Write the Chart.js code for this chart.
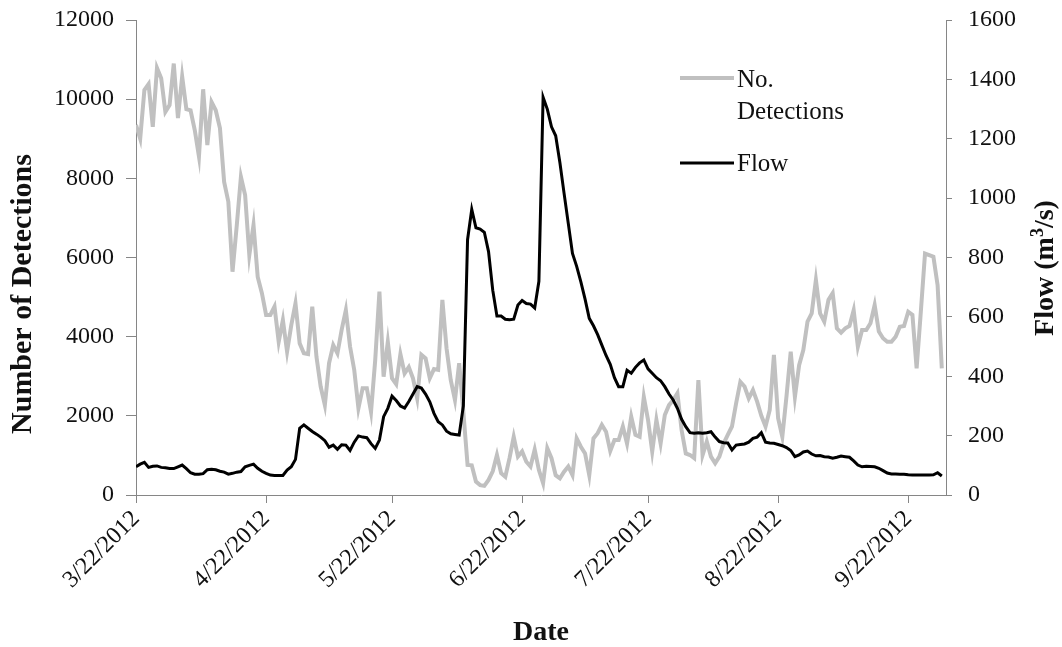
<!DOCTYPE html>
<html>
<head>
<meta charset="utf-8">
<script src="https://cdn.jsdelivr.net/npm/chart.js@4.4.1/dist/chart.umd.min.js"></script>
<style>
  html, body { margin: 0; padding: 0; background: #fff; }
  #wrap { width: 1062px; height: 647px; }
</style>
</head>
<body>
<div id="wrap"><canvas id="chartCanvas" width="1062" height="647"></canvas></div>
<script>
// Fechas del eje (primer día de datos y final del eje)
const startDate = '3/22/2012';
const axisEndDate = '10/1/2012';

// Etiquetas de las marcas del eje X
const tickLabels = ['3/22/2012', '4/22/2012', '5/22/2012', '6/22/2012', '7/22/2012', '8/22/2012', '9/22/2012'];

// Marcas de los ejes Y
const leftTicks = [0, 2000, 4000, 6000, 8000, 10000, 12000];
const rightTicks = [0, 200, 400, 600, 800, 1000, 1200, 1400, 1600];

// Número de detecciones por día (desde 3/22/2012)
const detections = [
  9350, 9000, 10230, 10380, 9300, 10790, 10530, 9680, 9850, 10900,
  9520, 10570, 9750, 9720, 9220, 8550, 10250, 8840, 9930, 9720,
  9270, 7910, 7410, 5640, 6800, 8040, 7580, 6060, 6820, 5510,
  5100, 4550, 4550, 4760, 3870, 4420, 3620, 4290, 4840, 3830,
  3580, 3560, 4760, 3490, 2740, 2270, 3330, 3790, 3580, 4170,
  4670, 3750, 3160, 2190, 2700, 2700, 2100, 3410, 5140, 2990,
  3870, 2950, 2800, 3560, 3070, 3230, 2950, 2440, 3540, 3450,
  2950, 3180, 3160, 4930, 3700, 2900, 2400, 3330, 2100, 760,
  750, 340, 250, 230, 380, 600, 1010, 550, 460, 930,
  1470, 970, 1100, 840, 720, 1150, 630, 300, 1180, 930,
  500, 420, 590, 720, 500, 1430, 1220, 1050, 500, 1430,
  1560, 1770, 1600, 1110, 1390, 1390, 1730, 1300, 1980, 1520,
  1470, 2480, 1900, 1100, 1900, 1300, 2020, 2270, 2400, 2570,
  1640, 1050, 1010, 930, 2900, 1010, 1350, 970, 800, 970,
  1300, 1520, 1730, 2320, 2860, 2740, 2440, 2650, 2360, 2000,
  1730, 2150, 3540, 1940, 1470, 2500, 3620, 2480, 3280, 3660,
  4380, 4590, 5430, 4590, 4380, 4930, 5100, 4210, 4100, 4210,
  4270, 4670, 3750, 4170, 4170, 4340, 4800, 4130, 3960, 3870,
  3870, 4000, 4250, 4270, 4630, 4550, 3200, 4630, 6100, 6060,
  6020, 5300, 3200
];

// Caudal diario (m3/s)
const flow = [
  95, 104, 110, 93, 97, 98, 93, 92, 89, 89,
  95, 101, 89, 75, 70, 70, 72, 85, 87, 85,
  80, 77, 70, 73, 77, 79, 95, 100, 104, 90,
  80, 73, 67, 66, 66, 66, 84, 95, 120, 225,
  236, 225, 214, 205, 195, 183, 161, 168, 154, 169,
  168, 150, 178, 199, 195, 193, 173, 157, 185, 264,
  292, 333, 318, 300, 293, 315, 340, 365, 360, 340,
  314, 275, 247, 236, 215, 206, 204, 202, 300, 860,
  962, 900, 896, 885, 820, 690, 603, 603, 592, 590,
  592, 640, 655, 645, 643, 630, 720, 1340, 1300, 1240,
  1210, 1120, 1016, 915, 814, 770, 718, 660, 595, 570,
  540, 505, 470, 440, 395, 365, 365, 420, 410, 430,
  445, 455, 425, 410, 395, 385, 365, 340, 320, 292,
  255, 230, 210, 208, 210, 208, 210, 213, 195, 180,
  176, 175, 152, 168, 170, 172, 178, 191, 195, 210,
  178, 175, 174, 170, 166, 160, 150, 129, 135, 145,
  148, 138, 132, 133, 129, 128, 124, 127, 131, 129,
  127, 115, 101, 95, 97, 96, 95, 90, 82, 74,
  71, 71, 70, 70, 68, 67, 67, 67, 67, 67,
  68, 75, 64
];

// Convierte 'm/d/yyyy' en número de días desde la fecha inicial
function dayOf(label) {
  const [m, d, y] = label.split('/').map(Number);
  const [m0, d0, y0] = startDate.split('/').map(Number);
  return Math.round((Date.UTC(y, m - 1, d) - Date.UTC(y0, m0 - 1, d0)) / 86400000);
}

const tickDays = tickLabels.map(dayOf);
const axisColor = '#868686';
const textColor = '#111';
const serif = "'Liberation Serif', 'Times New Roman', serif";

// Ancho fijo de los ejes Y, sin relleno extra arriba/abajo
function fixYAxis(width) {
  return s => {
    s.width = width;
    s.paddingTop = 0;
    s.paddingBottom = 0;
  };
}

// Títulos de ejes y leyenda dibujados a mano
const decorations = {
  id: 'decorations',
  afterDraw(chart) {
    const ctx = chart.ctx;
    ctx.save();
    ctx.fillStyle = textColor;
    ctx.textBaseline = 'middle';

    // Título eje izquierdo
    ctx.save();
    ctx.translate(23, 294);
    ctx.rotate(-Math.PI / 2);
    ctx.textAlign = 'center';
    ctx.font = 'bold 30px ' + serif;
    ctx.fillText('Number of Detections', 0, 0);
    ctx.restore();

    // Título eje derecho con superíndice
    ctx.save();
    ctx.translate(1046, 268);
    ctx.rotate(-Math.PI / 2);
    const big = 'bold 28px ' + serif;
    const small = 'bold 18px ' + serif;
    ctx.font = big;
    const w1 = ctx.measureText('Flow (m').width;
    const w3 = ctx.measureText('/s)').width;
    ctx.font = small;
    const w2 = ctx.measureText('3').width;
    let x = -(w1 + w2 + w3) / 2;
    ctx.textAlign = 'left';
    ctx.font = big;
    ctx.fillText('Flow (m', x, 0);
    x += w1;
    ctx.font = small;
    ctx.fillText('3', x, -8);
    x += w2;
    ctx.font = big;
    ctx.fillText('/s)', x, 0);
    ctx.restore();

    // Título eje X
    ctx.textAlign = 'center';
    ctx.font = 'bold 28px ' + serif;
    ctx.fillText('Date', 541, 633);

    // Leyenda
    ctx.lineWidth = 4;
    ctx.strokeStyle = '#c0c0c0';
    ctx.beginPath(); ctx.moveTo(680, 78); ctx.lineTo(734, 78); ctx.stroke();
    ctx.lineWidth = 3;
    ctx.strokeStyle = '#000';
    ctx.beginPath(); ctx.moveTo(680, 163); ctx.lineTo(734, 163); ctx.stroke();
    ctx.textAlign = 'left';
    ctx.font = '25px ' + serif;
    ctx.fillText('No.', 737, 80);
    ctx.fillText('Detections', 737, 112);
    ctx.fillText('Flow', 737, 164);
    ctx.restore();
  }
};

const ctx = document.getElementById('chartCanvas').getContext('2d');
new Chart(ctx, {
  type: 'line',
  data: {
    datasets: [
      {
        label: 'Flow',
        data: flow.map((v, i) => ({ x: i, y: v })),
        yAxisID: 'y1',
        borderColor: '#000',
        borderWidth: 3,
        pointRadius: 0,
        tension: 0,
        order: 1
      },
      {
        label: 'No. Detections',
        data: detections.map((v, i) => ({ x: i, y: v })),
        yAxisID: 'y',
        borderColor: '#c0c0c0',
        borderWidth: 4,
        pointRadius: 0,
        tension: 0,
        order: 2
      }
    ]
  },
  options: {
    responsive: false,
    animation: false,
    layout: { padding: { top: 20, left: 0, right: 0, bottom: 0 } },
    plugins: { legend: { display: false }, tooltip: { enabled: false } },
    scales: {
      x: {
        type: 'linear',
        min: 0,
        max: dayOf(axisEndDate),
        afterBuildTicks: s => { s.ticks = tickDays.map(v => ({ value: v })); },
        afterFit: s => { s.height = 152; s.paddingLeft = 0; s.paddingRight = 0; },
        ticks: {
          autoSkip: false,
          maxRotation: 45,
          minRotation: 45,
          padding: 2,
          color: textColor,
          font: { family: serif, size: 24 },
          callback: (v, i) => tickLabels[i]
        },
        grid: { drawOnChartArea: false, tickLength: 8, color: axisColor },
        border: { color: axisColor, width: 1 }
      },
      y: {
        position: 'left',
        min: 0,
        max: 12000,
        afterBuildTicks: s => { s.ticks = leftTicks.map(v => ({ value: v })); },
        afterFit: fixYAxis(136),
        ticks: { padding: 12, color: textColor, font: { family: serif, size: 24 }, callback: v => String(v) },
        grid: { drawOnChartArea: false, tickLength: 10, color: axisColor },
        border: { color: axisColor, width: 1 }
      },
      y1: {
        position: 'right',
        min: 0,
        max: 1600,
        afterBuildTicks: s => { s.ticks = rightTicks.map(v => ({ value: v })); },
        afterFit: fixYAxis(116),
        ticks: { padding: 16, color: textColor, font: { family: serif, size: 24 }, callback: v => String(v) },
        grid: { drawOnChartArea: false, tickLength: 6, color: axisColor },
        border: { color: axisColor, width: 1 }
      }
    }
  },
  plugins: [decorations]
});
</script>
</body>
</html>
